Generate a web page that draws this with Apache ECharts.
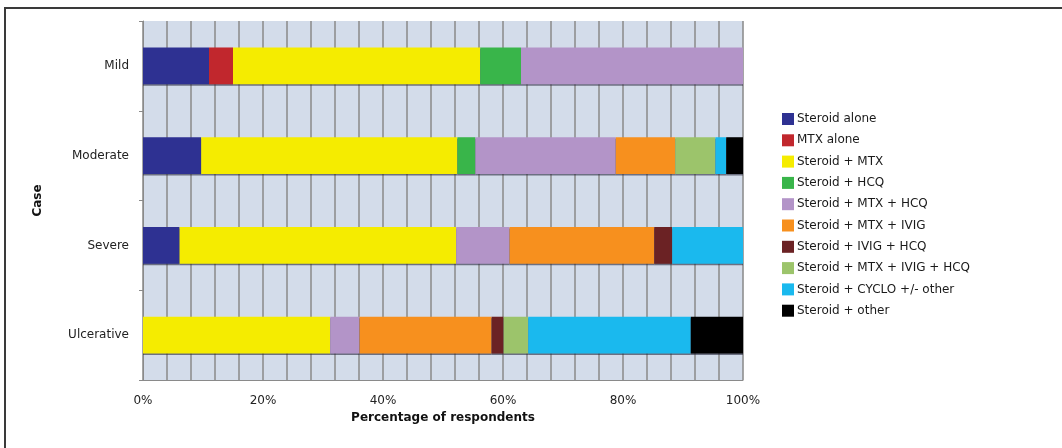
<!DOCTYPE html>
<html>
<head>
<meta charset="utf-8">
<script src="https://cdn.jsdelivr.net/npm/echarts@6/dist/echarts.min.js"></script>
<style>html,body{margin:0;padding:0;background:#fff;}#c{width:1062px;height:448px;}</style>
</head>
<body>
<div id="c"></div>
<script>
const categories = ['Mild', 'Moderate', 'Severe', 'Ulcerative'];
const seriesNames = ['Steroid alone', 'MTX alone', 'Steroid + MTX', 'Steroid + HCQ', 'Steroid + MTX + HCQ', 'Steroid + MTX + IVIG', 'Steroid + IVIG + HCQ', 'Steroid + MTX + IVIG + HCQ', 'Steroid + CYCLO +/- other', 'Steroid + other'];
// values per series, in category order [Mild, Moderate, Severe, Ulcerative]
const steroidAlone = [11, 9.7, 6.1, 0];
const mtxAlone = [4, 0, 0, 0];
const steroidMtx = [41.2, 42.7, 46.1, 31.2];
const steroidHcq = [6.8, 3.0, 0, 0];
const steroidMtxHcq = [37, 23.4, 8.9, 4.9];
const steroidMtxIvig = [0, 9.9, 24.1, 22];
const steroidIvigHcq = [0, 0, 3, 2];
const steroidMtxIvigHcq = [0, 6.7, 0, 4.1];
const steroidCyclo = [0, 1.8, 11.8, 27.1];
const steroidOther = [0, 2.8, 0, 8.7];
const xTicks = [0, 20, 40, 60, 80, 100];

const values = [steroidAlone, mtxAlone, steroidMtx, steroidHcq, steroidMtxHcq, steroidMtxIvig, steroidIvigHcq, steroidMtxIvigHcq, steroidCyclo, steroidOther];
const colors = ['#2e3192', '#c1272d', '#f5ec00', '#39b54a', '#b394c8', '#f7901e', '#6b2224', '#9cc46b', '#1ab9ee', '#000000'];

const font = 'DejaVu Sans, Verdana, sans-serif';
const chart = echarts.init(document.getElementById('c'));
chart.setOption({
  animation: false,
  backgroundColor: '#ffffff',
  color: colors,
  graphic: [{
    type: 'rect', silent: true, z: -1,
    shape: { x: 5, y: 8, width: 1080, height: 470 },
    style: { fill: 'none', stroke: '#3a3a3a', lineWidth: 2 }
  }],
  grid: { left: 143, right: 319, top: 21, bottom: 68, show: true, backgroundColor: '#d3dcea', borderWidth: 0 },
  legend: {
    orient: 'vertical', left: 777, top: 108,
    itemWidth: 12, itemHeight: 12, itemGap: 9.3,
    icon: 'rect',
    textStyle: { fontFamily: font, fontSize: 12, color: '#1a1a1a', padding: [0, 0, 0, -2] },
    data: seriesNames
  },
  xAxis: {
    type: 'value', min: 0, max: 100, interval: 4,
    name: 'Percentage of respondents', nameLocation: 'middle', nameGap: 30,
    nameTextStyle: { fontFamily: font, fontSize: 12, fontWeight: 'bold', color: '#111' },
    axisLine: { show: true, lineStyle: { color: '#8a8a8a', width: 1 } },
    axisTick: { show: false },
    axisLabel: {
      fontFamily: font, fontSize: 12, color: '#222', margin: 15,
      formatter: function (v) { return xTicks.indexOf(v) >= 0 ? v + '%' : ''; }
    },
    splitLine: { show: true, lineStyle: { color: '#8f8f8f', width: 1.6 } }
  },
  yAxis: {
    type: 'category', inverse: true, data: categories,
    name: 'Case', nameLocation: 'middle', nameGap: 99, nameRotate: 90,
    nameTextStyle: { fontFamily: font, fontSize: 12, fontWeight: 'bold', color: '#111' },
    axisLine: { show: true, lineStyle: { color: '#8a8a8a' } },
    axisTick: { show: true, length: 4, lineStyle: { color: '#8a8a8a' } },
    axisLabel: { fontFamily: font, fontSize: 12, color: '#222', margin: 14 },
    splitLine: { show: false }
  },
  series: seriesNames.map(function (name, i) {
    return {
      name: name, type: 'bar', stack: 'total', barWidth: '41%',
      data: values[i],
      itemStyle: { color: colors[i], shadowColor: 'rgba(40,40,60,0.6)', shadowOffsetY: 1.5, shadowBlur: 0 }
    };
  })
});
</script>
</body>
</html>
